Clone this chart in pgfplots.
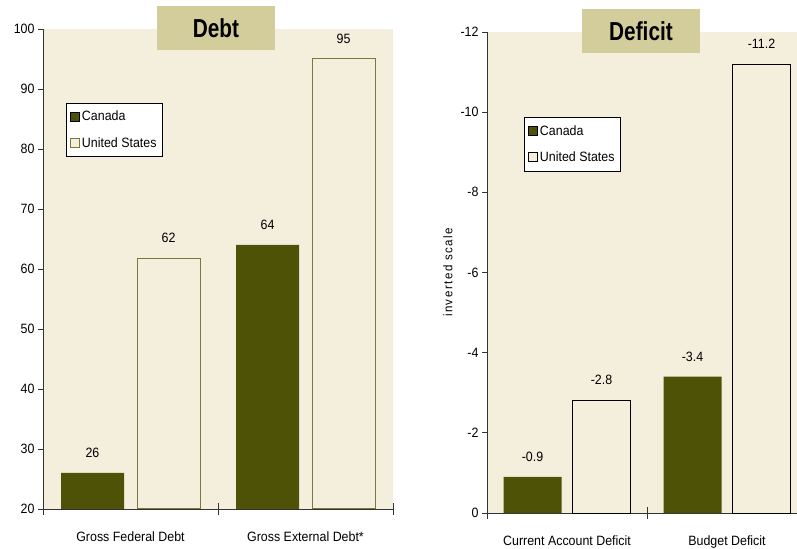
\documentclass[border=0pt]{standalone}
\usepackage{pgfplots}
\pgfplotsset{compat=1.18}
\usepackage{fontspec}
\setmainfont{Liberation Sans}[FakeStretch=0.92]
\newfontfamily\titlefont{Liberation Sans}[FakeStretch=0.8]
\definecolor{bgc}{HTML}{F4EEDC}
\definecolor{can}{HTML}{4E5206}
\definecolor{olive}{HTML}{7A7A38}
\definecolor{titlebg}{HTML}{D3CD9C}
\definecolor{axc}{HTML}{333333}
\newcommand{\lbl}{\fontsize{13.5bp}{15bp}\selectfont}
\pgfplotsset{
  commonstyle/.style={
    ybar,
    axis x line=bottom, axis y line=left,
    axis line style={axc, line width=0.9pt, -},
    axis background/.style={fill=bgc},
    tick style={axc, line width=0.8pt},
    major tick length=12bp, tick align=center,
    xmin=-0.5, xmax=1.5,
    xtick={-0.5,0.5,1.5}, xticklabels={},
    extra x tick style={major tick length=0pt, xticklabel style={font=\lbl, yshift=-19bp}},
    ytick=\empty,
    extra y tick style={major tick length=5bp, tick align=outside, yticklabel style={font=\lbl}},
    nodes near coords, point meta=explicit symbolic,
    every node near coord/.append style={font=\lbl, anchor=south, yshift=12bp},
    legend style={draw=black, fill=white, font=\lbl, row sep=11bp,
      inner xsep=4bp, inner ysep=6bp, cells={anchor=west}},
    legend image code/.code={\draw[##1, line width=0.8pt] (-2bp,-4.5bp) rectangle (7bp,4.5bp);},
    clip=false,
  }
}
\begin{document}
\begin{tikzpicture}[x=1bp,y=1bp]
\clip (0,0) rectangle (797,549);
\useasboundingbox (0,0) rectangle (797,549);
% ---------------- Left: Debt ----------------
\begin{axis}[
  commonstyle,
  at={(43bp,40bp)}, anchor=south west,
  scale only axis, width=350bp, height=480bp,
  ymin=20, ymax=100,
  bar width=63bp,
  extra y ticks={20,30,...,100},
  extra y tick labels={20,30,40,50,60,70,80,90,100},
  extra x ticks={0,1}, extra x tick labels={Gross Federal Debt, Gross External Debt*},
  legend style={at={(0.0657,0.846)}, anchor=north west},
]
\addplot[fill=can, draw=none, bar shift=-38bp] coordinates {(0,26) [26] (1,64) [64]};
\addplot[fill=bgc, draw=olive, line width=1pt, bar shift=38bp] coordinates {(0,61.7) [62] (1,95) [95]};
\legend{Canada, United States}
\end{axis}
% ---------------- Right: Deficit ----------------
\begin{axis}[
  commonstyle,
  at={(487bp,36bp)}, anchor=south west,
  scale only axis, width=320bp, height=481bp,
  ymin=-12, ymax=0, y dir=reverse,
  bar width=58bp,
  extra y ticks={-12,-10,-8,-6,-4,-2,0},
  extra y tick labels={-12,-10,-8,-6,-4,-2,0},
  ylabel={\addfontfeature{LetterSpace=12}\fontsize{12.5bp}{14bp}\selectfont inverted scale},
  ylabel style={at={(axis description cs:-0.122,0.5)}, anchor=center},
  extra x ticks={0,1}, extra x tick labels={Current Account Deficit, Budget Deficit},
  legend style={at={(0.1156,0.823)}, anchor=north west},
]
\addplot[fill=can, draw=none, bar shift=-34.5bp] coordinates {(0,-0.9) [-0.9] (1,-3.4) [-3.4]};
\addplot[fill=bgc, draw=black, line width=0.9pt, bar shift=34.5bp] coordinates {(0,-2.8) [-2.8] (1,-11.2) [-11.2]};
\legend{Canada, United States}
\end{axis}
% ---------------- Title boxes ----------------
\node[fill=titlebg, minimum width=118bp, minimum height=44bp, inner sep=0pt,
  font=\titlefont\bfseries\fontsize{26bp}{28bp}\selectfont] at (216,521) {Debt};
\node[fill=titlebg, minimum width=118bp, minimum height=44bp, inner sep=0pt,
  font=\titlefont\bfseries\fontsize{26bp}{28bp}\selectfont] at (641,518) {Deficit};
\end{tikzpicture}
\end{document}
